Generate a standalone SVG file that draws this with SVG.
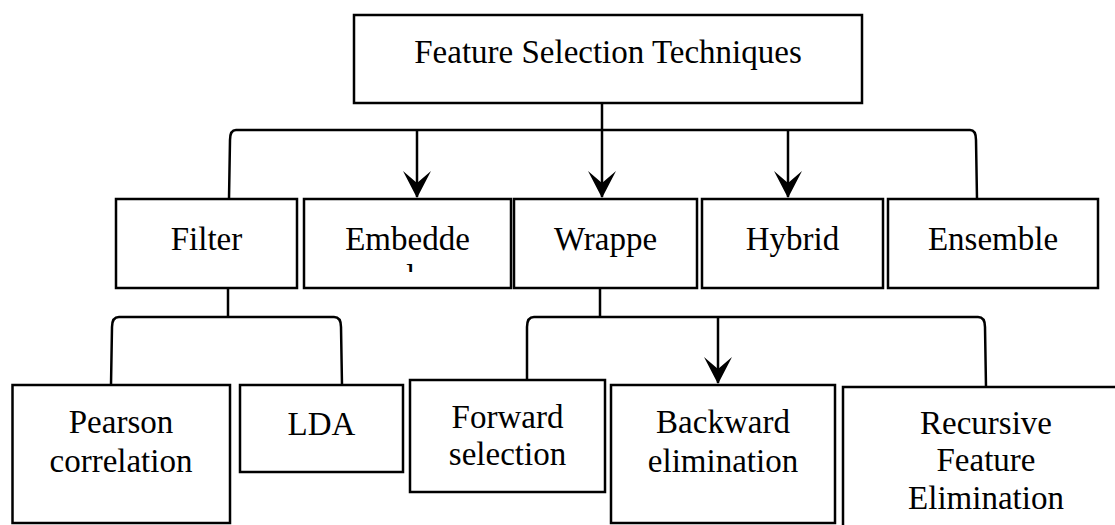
<svg xmlns="http://www.w3.org/2000/svg" width="1115" height="525" viewBox="0 0 1115 525">
  <style>
    .box { fill: #ffffff; stroke: #000000; stroke-width: 2.5; }
    .lbl { font-family: "Liberation Serif", "Times New Roman", serif; font-size: 33px; fill: #000000; text-anchor: middle; }
    .con { fill: none; stroke: #000000; stroke-width: 2.5; }
  </style>
  <defs>
    <marker id="arr" markerUnits="userSpaceOnUse" markerWidth="32" markerHeight="32" viewBox="-29 -16 32 32" refX="0" refY="0" orient="auto">
      <path d="M1,0 L-26,-14 L-14,0 L-26,14 Z" fill="#000000"/>
    </marker>
    <clipPath id="embClip">
      <rect x="304" y="199" width="207" height="73"/>
    </clipPath>
  </defs>

  <g id="connectors">
    <path class="con" d="M602,103 L602,197" marker-end="url(#arr)"/>
    <path class="con" d="M602,130 H236 Q230,130 230,140 L229,199"/>
    <path class="con" d="M602,130 H970 Q976,130 976,140 L977,199"/>
    <path class="con" d="M417,130 L417,197" marker-end="url(#arr)"/>
    <path class="con" d="M788,130 L788,197" marker-end="url(#arr)"/>
    <path class="con" d="M228,288 V317"/>
    <path class="con" d="M228,317 H119 Q112,317 112,327 L111,385"/>
    <path class="con" d="M228,317 H334 Q341,317 341,327 L342,385"/>
    <path class="con" d="M600,288 V317"/>
    <path class="con" d="M600,317 H534 Q527,317 527,327 L527,380"/>
    <path class="con" d="M600,317 H978 Q985,317 985,327 L986,387"/>
    <path class="con" d="M718,317 L718,383" marker-end="url(#arr)"/>
  </g>

  <g id="node-root">
    <rect class="box" x="354" y="15" width="508" height="88"/>
    <text class="lbl" x="608" y="63">Feature Selection Techniques</text>
  </g>

  <g id="node-filter">
    <rect class="box" x="116" y="199" width="181" height="89"/>
    <text class="lbl" x="206.5" y="250">Filter</text>
  </g>
  <g id="node-embedded">
    <rect class="box" x="304" y="199" width="207" height="89"/>
    <text class="lbl" x="407.5" y="250">Embedde</text>
    <text class="lbl" x="406" y="288" clip-path="url(#embClip)">d</text>
  </g>
  <g id="node-wrapper">
    <rect class="box" x="514" y="199" width="183" height="89"/>
    <text class="lbl" x="605.5" y="250">Wrappe</text>
  </g>
  <g id="node-hybrid">
    <rect class="box" x="702" y="199" width="181" height="89"/>
    <text class="lbl" x="792.5" y="250">Hybrid</text>
  </g>
  <g id="node-ensemble">
    <rect class="box" x="888" y="199" width="210" height="89"/>
    <text class="lbl" x="993" y="250">Ensemble</text>
  </g>

  <g id="node-pearson">
    <rect class="box" x="12.5" y="385" width="217.5" height="138"/>
    <text class="lbl" x="121" y="433">Pearson</text>
    <text class="lbl" x="121" y="472">correlation</text>
  </g>
  <g id="node-lda">
    <rect class="box" x="240" y="385" width="163" height="87"/>
    <text class="lbl" x="321.5" y="435">LDA</text>
  </g>
  <g id="node-forward">
    <rect class="box" x="410" y="380" width="195" height="112"/>
    <text class="lbl" x="507.5" y="428">Forward</text>
    <text class="lbl" x="507.5" y="465">selection</text>
  </g>
  <g id="node-backward">
    <rect class="box" x="611" y="385" width="224" height="138"/>
    <text class="lbl" x="723" y="433">Backward</text>
    <text class="lbl" x="723" y="472">elimination</text>
  </g>
  <g id="node-recursive">
    <rect class="box" x="843" y="387" width="290" height="150"/>
    <text class="lbl" x="986" y="434">Recursive</text>
    <text class="lbl" x="986" y="471">Feature</text>
    <text class="lbl" x="986" y="509">Elimination</text>
  </g>
</svg>
